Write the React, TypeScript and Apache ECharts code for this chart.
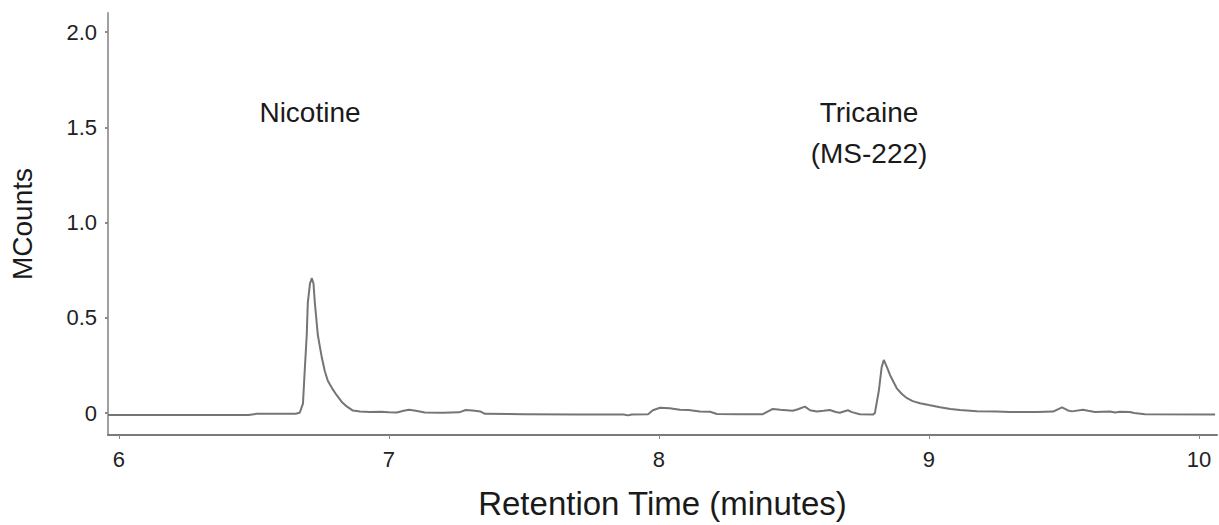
import React, { useEffect, useRef } from "react";
import * as echarts from "echarts";

const times: number[] = [
  5.96, 6.1, 6.3, 6.48, 6.51, 6.6, 6.655, 6.67, 6.682, 6.689, 6.696, 6.7, 6.708, 6.715, 6.721, 6.726,
  6.737, 6.752, 6.763, 6.774, 6.79, 6.807, 6.825, 6.844, 6.867, 6.893, 6.93, 6.97, 7.0, 7.03, 7.055,
  7.075, 7.1, 7.133, 7.2, 7.26, 7.285, 7.31, 7.34, 7.356, 7.5, 7.7, 7.87, 7.885, 7.9, 7.96, 7.978,
  8.004, 8.04, 8.078, 8.11, 8.152, 8.19, 8.215, 8.3, 8.385, 8.422, 8.45, 8.496, 8.515, 8.541, 8.56,
  8.585, 8.61, 8.633, 8.655, 8.67, 8.7, 8.715, 8.744, 8.793, 8.8, 8.815, 8.825, 8.833, 8.845, 8.856,
  8.881, 8.9, 8.919, 8.94, 8.967, 9.0, 9.041, 9.08, 9.115, 9.178, 9.25, 9.3, 9.4, 9.46, 9.493, 9.515,
  9.53, 9.57, 9.59, 9.615, 9.67, 9.69, 9.707, 9.744, 9.76, 9.8, 10.06,
];

const mcounts: number[] = [
  -0.01, -0.01, -0.01, -0.01, -0.004, -0.004, -0.003, 0.002, 0.05, 0.235, 0.41, 0.58, 0.68, 0.708,
  0.68, 0.58, 0.41, 0.29, 0.22, 0.17, 0.13, 0.094, 0.06, 0.035, 0.013, 0.008, 0.006, 0.007, 0.004,
  0.003, 0.012, 0.018, 0.012, 0.003, 0.002, 0.004, 0.016, 0.014, 0.008, -0.004, -0.006, -0.008,
  -0.007, -0.012, -0.007, -0.006, 0.015, 0.028, 0.026, 0.018, 0.016, 0.008, 0.007, -0.005, -0.006,
  -0.006, 0.022, 0.018, 0.012, 0.02, 0.034, 0.015, 0.008, 0.012, 0.016, 0.006, 0.002, 0.015, 0.005,
  -0.006, -0.008, 0.0, 0.12, 0.24, 0.279, 0.24, 0.2, 0.13, 0.1, 0.078, 0.063, 0.052, 0.042, 0.031,
  0.022, 0.016, 0.01, 0.008, 0.006, 0.006, 0.008, 0.03, 0.014, 0.009, 0.018, 0.012, 0.006, 0.008,
  0.003, 0.007, 0.006, 0.0, -0.006, -0.008,
];

const xTicks: number[] = [6, 7, 8, 9, 10];
const yTicks: number[] = [0, 0.5, 1.0, 1.5, 2.0];

const FONT = "'Liberation Sans', Arial, Helvetica, sans-serif";

export default function App() {
  const ref = useRef<HTMLDivElement>(null);
  useEffect(() => {
    document.body.style.margin = "0";
    if (!ref.current) return;
    const chart = echarts.init(ref.current, null, { renderer: "svg" });
    const data = times.map((t, i) => [t, mcounts[i]]);
    chart.setOption({
      animation: false,
      backgroundColor: "#ffffff",
      grid: { left: 108, right: 2, top: 13, bottom: 88 },
      xAxis: {
        type: "value",
        min: 5.96,
        max: 10.067,
        name: "Retention Time (minutes)",
        nameLocation: "middle",
        nameGap: 52,
        nameTextStyle: { fontFamily: FONT, fontSize: 33, color: "#1a1a1a" },
        axisLine: { onZero: false, lineStyle: { color: "#7a7a7a", width: 2 } },
        axisTick: { show: true, customValues: xTicks, length: 4, inside: false, lineStyle: { color: "#8a8a8a" } },
        axisLabel: {
          customValues: xTicks,
          margin: 13,
          fontFamily: FONT,
          fontSize: 22,
          color: "#222",
          formatter: (v: number) => String(v),
        },
        splitLine: { show: false },
      },
      yAxis: {
        type: "value",
        min: -0.115,
        max: 2.1,
        name: "MCounts",
        nameLocation: "middle",
        nameRotate: 90,
        nameGap: 72,
        nameTextStyle: { fontFamily: FONT, fontSize: 28, color: "#1a1a1a" },
        axisLine: { show: true, onZero: false, lineStyle: { color: "#a0a0a0", width: 2 } },
        axisTick: { show: true, customValues: yTicks, length: 3, lineStyle: { color: "#8a8a8a", width: 2 } },
        axisLabel: {
          customValues: yTicks,
          margin: 11,
          fontFamily: FONT,
          fontSize: 22,
          color: "#222",
          formatter: (v: number) => (v === 0 ? "0" : v.toFixed(1)),
        },
        splitLine: { show: false },
      },
      series: [
        {
          type: "line",
          data,
          showSymbol: false,
          symbol: "none",
          smooth: false,
          lineStyle: { color: "#757575", width: 2 },
        },
      ],
      graphic: [
        {
          type: "text",
          x: 310,
          y: 112,
          style: {
            text: "Nicotine",
            fontFamily: FONT,
            fontSize: 28,
            fill: "#1a1a1a",
            textAlign: "center",
            textVerticalAlign: "middle",
          },
        },
        {
          type: "text",
          x: 869,
          y: 112,
          style: {
            text: "Tricaine",
            fontFamily: FONT,
            fontSize: 28,
            fill: "#1a1a1a",
            textAlign: "center",
            textVerticalAlign: "middle",
          },
        },
        {
          type: "text",
          x: 869,
          y: 153,
          style: {
            text: "(MS-222)",
            fontFamily: FONT,
            fontSize: 28,
            fill: "#1a1a1a",
            textAlign: "center",
            textVerticalAlign: "middle",
          },
        },
      ],
    });
    return () => chart.dispose();
  }, []);
  return <div ref={ref} style={{ width: 1219, height: 525 }} />;
}
